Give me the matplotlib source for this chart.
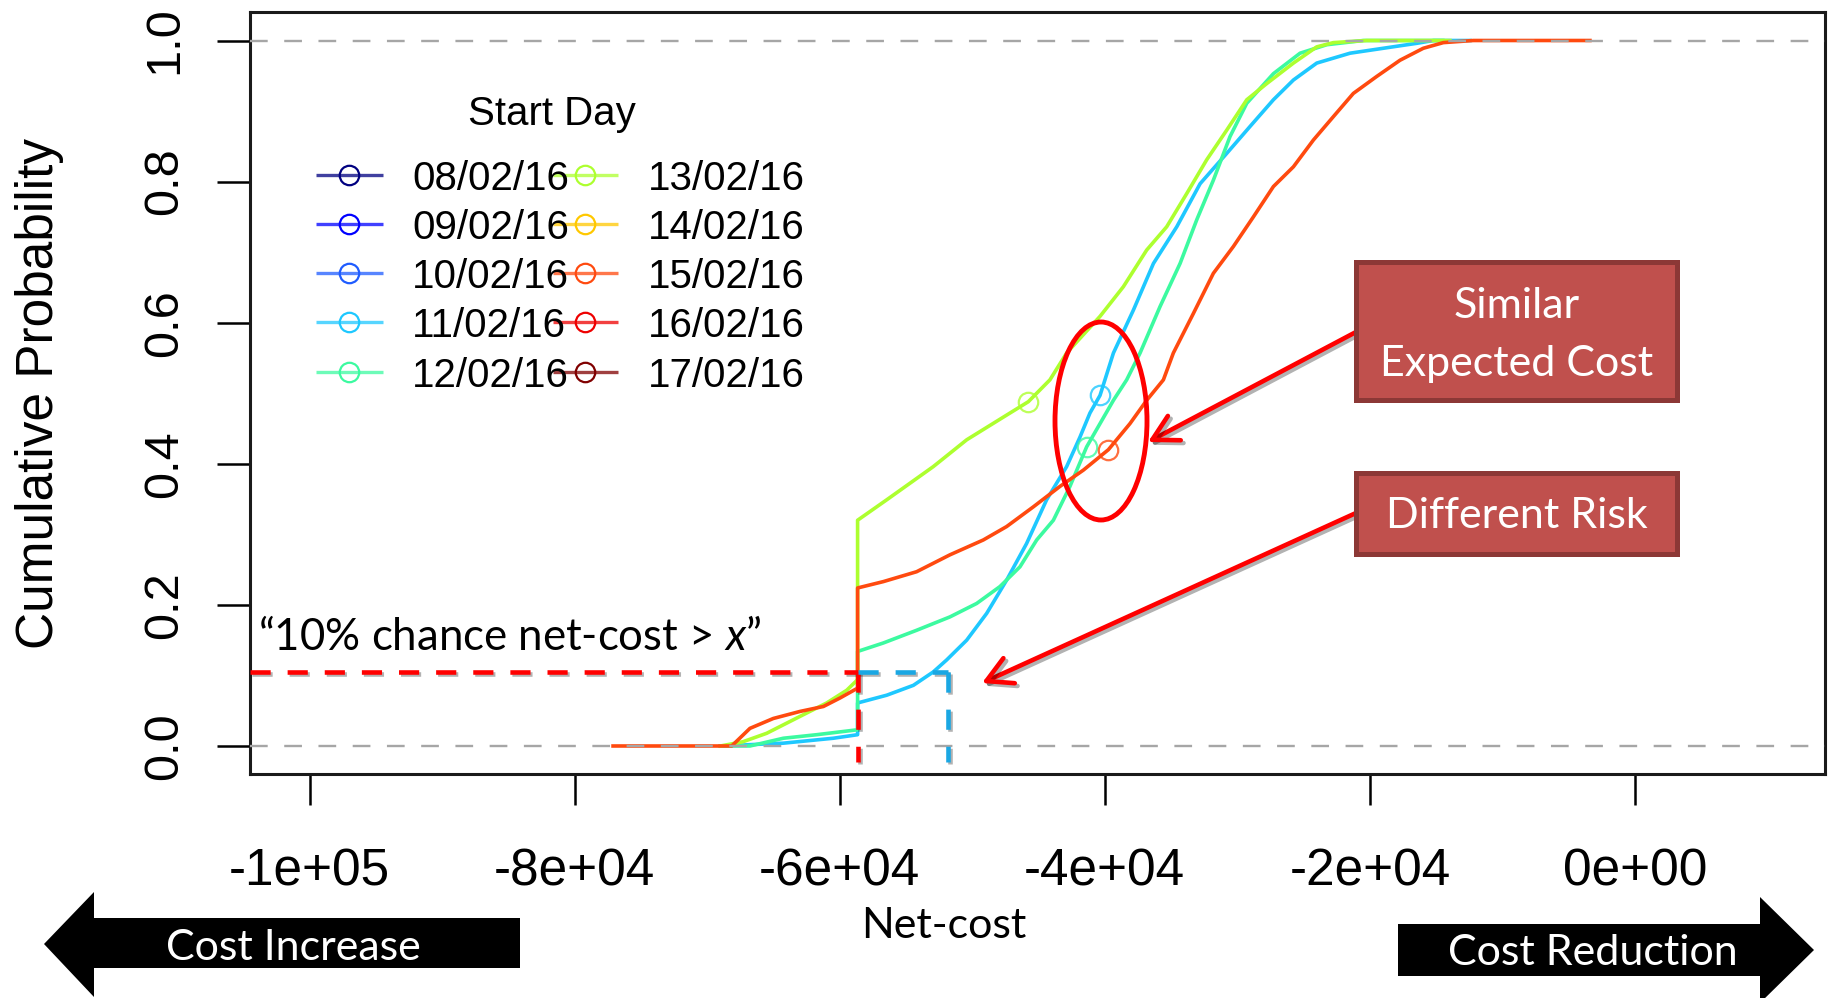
"""Cumulative distribution of net-cost for several start days, with slide annotations."""
import matplotlib

matplotlib.use("Agg")
import matplotlib.pyplot as plt
from matplotlib import patheffects as pe
from matplotlib.patches import Ellipse, FancyArrowPatch, Polygon, Rectangle

plt.rcParams["font.family"] = ["Liberation Sans", "DejaVu Sans"]
plt.rcParams["mathtext.fontset"] = "custom"
plt.rcParams["mathtext.rm"] = "Lato"
plt.rcParams["mathtext.it"] = "Lato:italic"

# legend: start days and their colours
start_days = ["08/02/16", "09/02/16", "10/02/16", "11/02/16", "12/02/16",
              "13/02/16", "14/02/16", "15/02/16", "16/02/16", "17/02/16"]
day_colors = ["#000080", "#0000FF", "#1F5CFF", "#1EC8FF", "#3CFAA0",
              "#ADFF2F", "#FFC800", "#FF4A0F", "#EE0000", "#800000"]

net_11 = [-69000, -64250, -60480, -58650, -58650, -56450, -54440, -52940, -51930,
          -50420, -48910, -47410, -45900, -44390, -42880, -41870, -41120, -40360,
          -39350, -37840, -36330, -34570, -32810, -30800, -29050, -27280, -25770,
          -24010, -21500, -18990, -16470, -15200, -12450]
prob_11 = [0.0, 0.004, 0.011, 0.016, 0.061, 0.072, 0.086, 0.105, 0.122,
           0.150, 0.188, 0.235, 0.287, 0.349, 0.396, 0.438, 0.472, 0.497,
           0.557, 0.618, 0.684, 0.736, 0.797, 0.840, 0.878, 0.916, 0.944,
           0.968, 0.982, 0.989, 0.996, 1.0, 1.0]

net_12 = [-69000, -66770, -64250, -61740, -58650, -58650, -56710, -54200, -51680,
          -49670, -47910, -46400, -45140, -43880, -42630, -41370, -40360, -39350,
          -38350, -37340, -35830, -34320, -33060, -31810, -30550, -29290, -27280,
          -25270, -23260, -20500, -14500]
prob_12 = [0.0, 0.0, 0.011, 0.016, 0.023, 0.134, 0.146, 0.164, 0.183,
           0.202, 0.226, 0.254, 0.292, 0.320, 0.368, 0.424, 0.457, 0.490,
           0.519, 0.557, 0.623, 0.684, 0.746, 0.802, 0.864, 0.911, 0.953,
           0.982, 0.994, 1.0, 1.0]

net_13 = [-69000, -67300, -65510, -62990, -60980, -59470, -58650, -58650, -56450,
          -52940, -50420, -47150, -45770, -44140, -42880, -40360, -38600, -36840,
          -35330, -33820, -32310, -30800, -29290, -27780, -25770, -24010, -22760,
          -20240, -13960]
prob_13 = [0.0, 0.006, 0.018, 0.042, 0.061, 0.079, 0.094, 0.320, 0.349,
           0.396, 0.434, 0.472, 0.488, 0.519, 0.557, 0.609, 0.651, 0.703,
           0.736, 0.783, 0.831, 0.873, 0.916, 0.939, 0.968, 0.991, 0.997,
           1.0, 1.0]

net_15 = [-77100, -68150, -66770, -65010, -62990, -61230, -59980, -58650, -58650,
          -56710, -54200, -51680, -49170, -47410, -45390, -43380, -41620, -39730,
          -38100, -36840, -35580, -34830, -33320, -31810, -30300, -28790, -27280,
          -25770, -24260, -22760, -21250, -19490, -17730, -15970, -14460, -12200,
          -3400]
prob_15 = [0.0, 0.0, 0.025, 0.039, 0.049, 0.056, 0.068, 0.082, 0.224,
           0.233, 0.247, 0.271, 0.292, 0.311, 0.339, 0.368, 0.391, 0.420,
           0.457, 0.490, 0.519, 0.557, 0.613, 0.670, 0.708, 0.750, 0.793,
           0.821, 0.859, 0.892, 0.925, 0.949, 0.972, 0.989, 0.997, 1.0,
           1.0]

# expected cost markers (net-cost, probability) for the plotted days
mean_days = [3, 4, 5, 7]
mean_net = [-40360, -41370, -45770, -39730]
mean_prob = [0.497, 0.424, 0.488, 0.420]

x_ticks = [-100000, -80000, -60000, -40000, -20000, 0]
x_tick_labels = ["-1e+05", "-8e+04", "-6e+04", "-4e+04", "-2e+04", "0e+00"]
y_ticks = [0.0, 0.2, 0.4, 0.6, 0.8, 1.0]
y_tick_labels = ["0.0", "0.2", "0.4", "0.6", "0.8", "1.0"]

# 10% risk threshold and where each curve reaches it
risk_prob = 0.105
risk_net_red = -58650
risk_net_blue = -51830

W, H = 1831, 998
fig = plt.figure(figsize=(W / 100, H / 100), dpi=100)
ax = fig.add_axes([250 / W, (H - 774) / H, 1575 / W, 762 / H])
ax.set_xlim(-104489, 14334)
ax.set_ylim(-0.0397, 1.0404)

for net, prob, day in [(net_11, prob_11, 3), (net_12, prob_12, 4),
                       (net_13, prob_13, 5), (net_15, prob_15, 7)]:
    ax.plot(net, prob, color=day_colors[day], lw=2.6, zorder=2)
for d, x, y in zip(mean_days, mean_net, mean_prob):
    ax.plot([x], [y], marker="o", ms=14, mfc="none", mec=day_colors[d],
            mew=1.6, alpha=0.8, zorder=3)

for level in (0.0, 1.0):
    ax.axhline(level, color="#A6A6A6", lw=1.7, dashes=(7.5, 7), zorder=4)

shadow = [pe.SimpleLineShadow(offset=(1.5, -1.5), shadow_color="k", alpha=0.3), pe.Normal()]
dash_kw = dict(lw=3.3, dashes=(4.4, 3.7), path_effects=shadow)
ax.plot([ax.get_xlim()[0], risk_net_red], [risk_prob, risk_prob], color="red", zorder=6, **dash_kw)
ax.plot([risk_net_red, risk_net_red], [risk_prob, -0.022], color="red", zorder=6, **dash_kw)
ax.plot([risk_net_red, risk_net_blue], [risk_prob, risk_prob], color="#1AA7E3", zorder=7, **dash_kw)
ax.plot([risk_net_blue, risk_net_blue], [risk_prob, -0.022], color="#1AA7E3", zorder=7, **dash_kw)

ax.set_xticks(x_ticks, x_tick_labels)
ax.set_yticks(y_ticks, y_tick_labels)
ax.tick_params(axis="x", length=22, width=1.8, pad=31, labelsize=37)
ax.tick_params(axis="y", length=24, width=1.8, pad=21, labelsize=35, labelrotation=90)
for lab in ax.get_yticklabels():
    lab.set_va("center")
for sp in ax.spines.values():
    sp.set_linewidth(2.2)
    sp.set_color("#1a1a1a")

fig.text(53 / W, (H - 393) / H, "Cumulative Probability", rotation=90,
         rotation_mode="anchor", ha="center", va="baseline", fontsize=37)

# overlay in pixel coordinates for the slide annotations
ov = fig.add_axes([0, 0, 1, 1], zorder=5)
ov.set_xlim(0, W)
ov.set_ylim(H, 0)
ov.axis("off")
ov.patch.set_alpha(0)

# legend
ov.text(552, 125, "Start Day", ha="center", va="baseline", fontsize=29)
row_y = [175, 224, 273, 322, 372]
for i, (day, col) in enumerate(zip(start_days, day_colors)):
    c, r = divmod(i, 5)
    y = row_y[r]
    lx0, lx1, mx, tx = (316, 383, 349, 412) if c == 0 else (553, 618, 585, 648)
    ov.plot([lx0, lx1], [y, y], color=col, lw=2.4, alpha=0.75, solid_capstyle="butt")
    ov.plot([mx], [y], marker="o", ms=14, mfc="none", mec=col, mew=1.6)
    ov.text(tx, y + 15, day, ha="left", va="baseline", fontsize=29)

calibri = "Lato"
ov.text(258, 650, "“10% chance net-cost > $x$”", family=calibri, fontsize=31.5,
        ha="left", va="baseline")
ov.text(944, 938, "Net-cost", family=calibri, fontsize=31, ha="center", va="baseline")

# red callout boxes
for (x0, y0, w, h), lines, baselines in [((1356, 262, 321, 138), ["Similar", "Expected Cost"], [318, 376]),
                                          ((1356, 473, 321, 81), ["Different Risk"], [528])]:
    ov.add_patch(Rectangle((x0, y0), w, h, fc="#C0504D", ec="#8C3836", lw=3.6, zorder=6))
    for txt, yb in zip(lines, baselines):
        ov.text(x0 + w / 2, yb, txt, family=calibri, fontsize=31, color="white",
                ha="center", va="baseline", zorder=7)

for start, end in [((1356, 332), (1148, 442)), ((1356, 513), (982, 683))]:
    ov.add_patch(FancyArrowPatch(start, end, arrowstyle="->,head_length=1.0,head_width=0.55",
                                 mutation_scale=18, color="red", lw=3.3,
                                 shrinkA=0, shrinkB=0, zorder=5,
                                 path_effects=[pe.SimpleLineShadow(offset=(2, -2), shadow_color="k", alpha=0.3),
                                               pe.Normal()]))
ov.add_patch(Ellipse((1101, 421), 92, 198, fill=False, ec="red", lw=3.5, zorder=5))

# direction arrows under the axis
ov.add_patch(Polygon([(44, 944), (94, 892), (94, 918), (520, 918), (520, 968),
                      (94, 968), (94, 997)], closed=True, fc="black", ec="none"))
ov.add_patch(Polygon([(1398, 924), (1760, 924), (1760, 897), (1814, 950), (1760, 1003),
                      (1760, 976), (1398, 976)], closed=True, fc="black", ec="none"))
ov.text(293, 960, "Cost Increase", family=calibri, fontsize=31, color="white",
        ha="center", va="baseline")
ov.text(1593, 965, "Cost Reduction", family=calibri, fontsize=31, color="white",
        ha="center", va="baseline")

fig.savefig("out.png", dpi=100)
